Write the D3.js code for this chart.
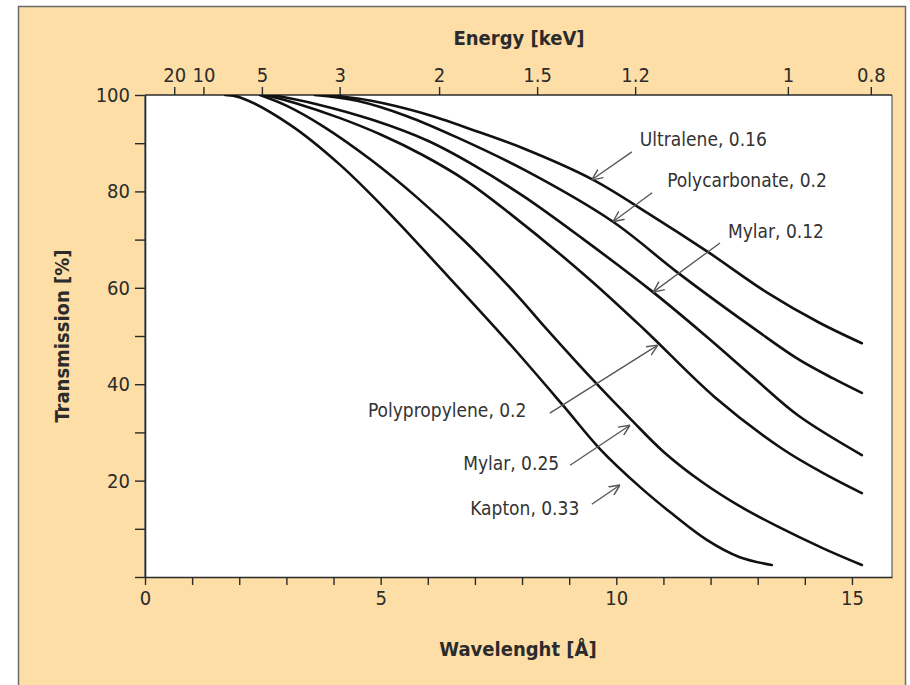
<!DOCTYPE html>
<html>
<meta charset="UTF-8">
<head>
    <script src="https://d3js.org/d3.v7.min.js"></script>
    <style>
        body {
            margin: 0;
            background: white;
        }
        text {
            font-family: "Liberation Sans Narrow", "Arial Narrow", "DejaVu Sans Condensed", sans-serif;
        }
    </style>
</head>
<body>
</body>
<script>
    // transmission [%] against wavelength [Å]
    let kapton33 = [[1.70, 100], [2.02, 99.5], [3.08, 93.8], [4.14, 85.5], [5.2, 75.3], [6.22, 64.6], [7.7, 48.8],
        [8.87, 35.6], [9.65, 26.6], [10.5, 18.7], [11.2, 13.0], [11.92, 7.7], [12.62, 4.1], [13.3, 2.5]];
    let mylar25 = [[2.44, 100], [3.0, 97.8], [3.78, 93.5], [4.8, 86.5], [5.8, 78.5], [6.8, 69.5], [7.89, 58.5],
        [8.49, 51.8], [9.59, 40], [10.33, 32.5], [11.0, 26.0], [11.82, 19.7], [12.6, 14.8], [13.4, 10.6],
        [14.4, 5.9], [15.21, 2.5]];
    let polypropylene20 = [[2.55, 100], [3.2, 98.3], [4.14, 95.2], [5.0, 91.8], [5.9, 87.5], [6.8, 82.3], [7.68, 75.9],
        [9.38, 62.2], [10.61, 51.2], [12.09, 37.3], [13.52, 26.6], [14.4, 21.5], [15.21, 17.4]];
    let mylar12 = [[2.7, 100], [3.6, 98.2], [4.84, 94.8], [6.0, 90.5], [7.0, 85.3], [8.06, 78.8], [9.27, 70.3],
        [10.78, 59.1], [11.9, 50], [12.9, 41.5], [13.86, 33.5], [15.21, 25.3]];
    let polycarbonate20 = [[3.6, 100], [4.5, 98.8], [5.56, 95.6], [6.62, 91.2], [8.06, 84.4], [9.93, 73.7],
        [11.31, 63.1], [13.0, 51.0], [13.86, 45.2], [14.6, 41.2], [15.21, 38.2]];
    let ultralene16 = [[3.9, 100], [4.8, 98.8], [5.9, 96.2], [7.0, 92.6], [8.06, 88.8], [9.49, 82.5], [10.7, 75.3],
        [11.95, 67.4], [13.2, 59.0], [14.3, 52.8], [15.21, 48.5]];

    let curves = [kapton33, mylar25, polypropylene20, mylar12, polycarbonate20, ultralene16];

    let xTickLabels = [0, 5, 10, 15];
    let yTickLabels = [20, 40, 60, 80, 100];
    // energy axis on top: labels and where they sit on the wavelength scale
    let energyLabels = ["20", "10", "5", "3", "2", "1.5", "1.2", "1", "0.8"];
    let energyAtWavelength = [0.62, 1.24, 2.48, 4.13, 6.24, 8.32, 10.4, 13.64, 15.4];

    // label text, where it starts, arrow tail and arrow tip (wavelength, transmission)
    let noteTexts = ["Ultralene, 0.16", "Polycarbonate, 0.2", "Mylar, 0.12", "Polypropylene, 0.2", "Mylar, 0.25", "Kapton, 0.33"];
    let notePos = [[10.5, 89.4], [11.08, 80.9], [12.37, 70.3], [4.73, 33.2], [6.75, 22.2], [6.9, 12.9]];
    let arrowFrom = [[10.33, 88.2], [10.76, 79.7], [12.2, 69.3], [8.59, 34.0], [9.02, 23.2], [9.48, 15.1]];
    let arrowTo = [[9.48, 82.4], [9.93, 73.7], [10.78, 59.1], [10.88, 48.1], [10.29, 31.5], [10.08, 19.1]];

    function drawChart() {
        let width = 910;
        let height = 685;
        let left = 145, right = 892, top = 95, bottom = 577;

        let svg = d3.select("body").append("svg")
            .attr("width", width)
            .attr("height", height);

        // beige panel with thin frame
        svg.append("rect")
            .attr("x", 18.5).attr("y", 6.5)
            .attr("width", 887).attr("height", 690)
            .attr("fill", "#fddea6")
            .attr("stroke", "#6b6b6b")
            .attr("stroke-width", 1.5);

        let x = d3.scaleLinear().domain([0, (right - left) / 47.13]).range([left, right]);
        let y = d3.scaleLinear().domain([0, 100]).range([bottom, top]);

        svg.append("rect")
            .attr("x", left).attr("y", top)
            .attr("width", right - left).attr("height", bottom - top)
            .attr("fill", "white");

        let defs = svg.append("defs");
        defs.append("clipPath").attr("id", "plotclip")
            .append("rect")
            .attr("x", left).attr("y", top)
            .attr("width", right - left).attr("height", bottom - top);

        defs.append("marker")
            .attr("id", "arrowhead")
            .attr("viewBox", "0 0 10 10")
            .attr("refX", 10).attr("refY", 5)
            .attr("markerWidth", 11).attr("markerHeight", 11)
            .attr("markerUnits", "userSpaceOnUse")
            .attr("orient", "auto")
            .append("path")
            .attr("d", "M0,0.5 L10,5 L0,9.5")
            .attr("fill", "none")
            .attr("stroke", "#555")
            .attr("stroke-width", 1.3);

        // side borders of the plot are lighter than the axes
        svg.append("line")
            .attr("x1", left).attr("x2", left).attr("y1", top).attr("y2", bottom)
            .attr("stroke", "#7a7a7a").attr("stroke-width", 1.5);
        svg.append("line")
            .attr("x1", right).attr("x2", right).attr("y1", top).attr("y2", bottom)
            .attr("stroke", "#7a7a7a").attr("stroke-width", 1.5);

        // bottom axis: wavelength
        let xAxis = d3.axisBottom(x)
            .tickValues(d3.range(0, 16))
            .tickSize(8)
            .tickSizeOuter(0)
            .tickFormat(d => xTickLabels.includes(d) ? d : "");
        let gx = svg.append("g")
            .attr("transform", `translate(0,${bottom})`)
            .call(xAxis);

        // left axis: transmission
        let yAxis = d3.axisLeft(y)
            .tickValues(d3.range(0, 101, 10))
            .tickSize(10)
            .tickSizeOuter(0)
            .tickFormat(d => yTickLabels.includes(d) ? d : "");
        let gy = svg.append("g")
            .attr("transform", `translate(${left},0)`)
            .call(yAxis);

        // top axis: energy
        let ex = d3.scaleOrdinal().domain(energyLabels).range(energyAtWavelength.map(d => x(d)));
        let topAxis = d3.axisTop(ex)
            .tickSize(8)
            .tickSizeOuter(0);
        let gt = svg.append("g")
            .attr("transform", `translate(0,${top})`)
            .call(topAxis);
        gt.select(".domain").remove();
        svg.append("line")
            .attr("x1", left).attr("x2", right).attr("y1", top).attr("y2", top)
            .attr("stroke", "#2a2a2a").attr("stroke-width", 1.6);

        for (let g of [gx, gy, gt]) {
            g.selectAll(".domain").attr("stroke", "#2a2a2a").attr("stroke-width", 1.6);
            g.selectAll(".tick line").attr("stroke", "#2a2a2a").attr("stroke-width", 1.4);
            g.selectAll(".tick text")
                .attr("fill", "#2b2b2b")
                .style("font-size", "20px")
                .style("font-family", null);
        }
        gx.selectAll(".tick text").attr("dy", "0.95em").attr("y", 9);
        gy.selectAll(".tick text").attr("x", -15);
        gt.selectAll(".tick text").attr("y", -13);

        // axis titles
        let titles = [
            {t: "Energy [keV]", tr: "translate(519,45)"},
            {t: "Wavelenght [Å]", tr: "translate(518,656)"},
            {t: "Transmission [%]", tr: "translate(69,336) rotate(-90)"}
        ];
        svg.append("g")
            .selectAll("text")
            .data(titles)
            .join("text")
            .attr("transform", d => d.tr)
            .attr("text-anchor", "middle")
            .attr("font-weight", "bold")
            .attr("font-size", "20px")
            .attr("fill", "#2b2b2b")
            .text(d => d.t);

        // the six filter curves
        let line = d3.line()
            .x(d => x(d[0]))
            .y(d => y(d[1]))
            .curve(d3.curveCatmullRom.alpha(0.5));

        svg.append("g")
            .attr("clip-path", "url(#plotclip)")
            .selectAll("path")
            .data(curves)
            .join("path")
            .attr("d", line)
            .attr("fill", "none")
            .attr("stroke", "#111")
            .attr("stroke-width", 2.6)
            .attr("stroke-linecap", "round");

        // labels with arrows
        svg.append("g")
            .selectAll("line")
            .data(arrowFrom)
            .join("line")
            .attr("x1", d => x(d[0]))
            .attr("y1", d => y(d[1]))
            .attr("x2", (d, i) => x(arrowTo[i][0]))
            .attr("y2", (d, i) => y(arrowTo[i][1]))
            .attr("stroke", "#555")
            .attr("stroke-width", 1.3)
            .attr("marker-end", "url(#arrowhead)");

        svg.append("g")
            .selectAll("text")
            .data(noteTexts)
            .join("text")
            .attr("x", (d, i) => x(notePos[i][0]))
            .attr("y", (d, i) => y(notePos[i][1]))
            .attr("font-size", "19px")
            .attr("fill", "#333")
            .text(d => d);
    }

    drawChart();
</script>
</html>
